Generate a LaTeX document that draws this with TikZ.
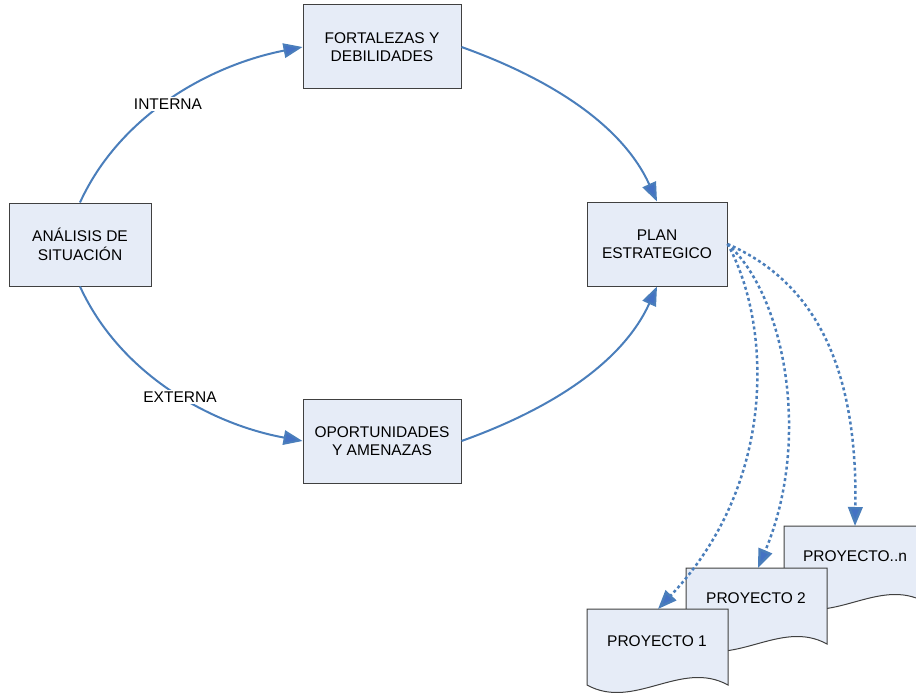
\documentclass[tikz,border=0pt]{standalone}
\usepackage{fontspec}
\setmainfont{Liberation Sans}
\usetikzlibrary{arrows.meta}
\definecolor{linec}{HTML}{4A7EBB}
\definecolor{tipc}{HTML}{4472C4}
\definecolor{boxfill}{HTML}{E6ECF7}
\definecolor{boxdraw}{HTML}{404040}
\begin{document}
\begin{tikzpicture}[x=1pt,y=-1pt,
  txt/.style={font=\fontsize{15.5}{18.5}\selectfont, align=center},
  box/.style={txt, draw=boxdraw, fill=boxfill, line width=1pt, inner sep=0pt},
  docbox/.style={draw=boxdraw, fill=boxfill, line width=1pt},
  tip/.style={-{Triangle[length=19pt,width=14.5pt,fill=tipc]}},
  conn/.style={draw=linec, line width=2pt, tip},
  dotconn/.style={draw=linec, line width=2.5pt, dash pattern=on 3pt off 2.8pt, tip},
  lab/.style={txt, fill=white, inner sep=2pt}]
\useasboundingbox (0,0) rectangle (916,693);
\clip (0,0) rectangle (916,693);

% main boxes
\node[box, minimum width=142pt, minimum height=83pt] (anal) at (80,244.5) {ANÁLISIS DE\\SITUACIÓN};
\node[box, minimum width=158pt, minimum height=84pt] (fort) at (382,47) {FORTALEZAS Y\\DEBILIDADES};
\node[box, minimum width=140pt, minimum height=84pt] (plan) at (657,244) {PLAN\\ESTRATEGICO};
\node[box, minimum width=158pt, minimum height=84pt] (opor) at (382,441) {OPORTUNIDADES\\Y AMENAZAS};

% document shapes
\draw[docbox] (784,526) -- (925,526) -- (925,602) .. controls (878,576) and (831,628) .. (784,602) -- cycle;
\node[txt] (pn) at (855,556) {PROYECTO..n};
\coordinate (pntop) at (855,526);

\draw[docbox] (686,568) -- (827,568) -- (827,644) .. controls (780,618) and (733,670) .. (686,644) -- cycle;
\node[txt] (p2) at (756,598) {PROYECTO 2};
\coordinate (p2top) at (758,568);

\draw[docbox] (587,609) -- (728,609) -- (728,685) .. controls (681,659) and (634,711) .. (587,685) -- cycle;
\node[txt] (p1) at (657,641) {PROYECTO 1};
\coordinate (p1top) at (658,609);

% solid connectors
\draw[conn] (anal.north) .. controls (120,115) and (210,65) .. (fort.west);
\draw[conn] (anal.south) .. controls (120,374) and (210,424) .. (opor.west);
\draw[conn] (fort.east) .. controls (540,75) and (620,120) .. (plan.north);
\draw[conn] (opor.east) .. controls (540,413) and (620,368) .. (plan.south);

% labels
\node[lab] (interna) at (168,104) {INTERNA};
\node[lab] (externa) at (180,397) {EXTERNA};

% dotted connectors
\draw[dotconn] (plan.east) .. controls (810,280) and (858,360) .. (pntop);
\draw[dotconn] (plan.east) .. controls (785,295) and (812,440) .. (p2top);
\draw[dotconn] (plan.east) .. controls (770,320) and (780,480) .. (p1top);
\end{tikzpicture}
\end{document}
